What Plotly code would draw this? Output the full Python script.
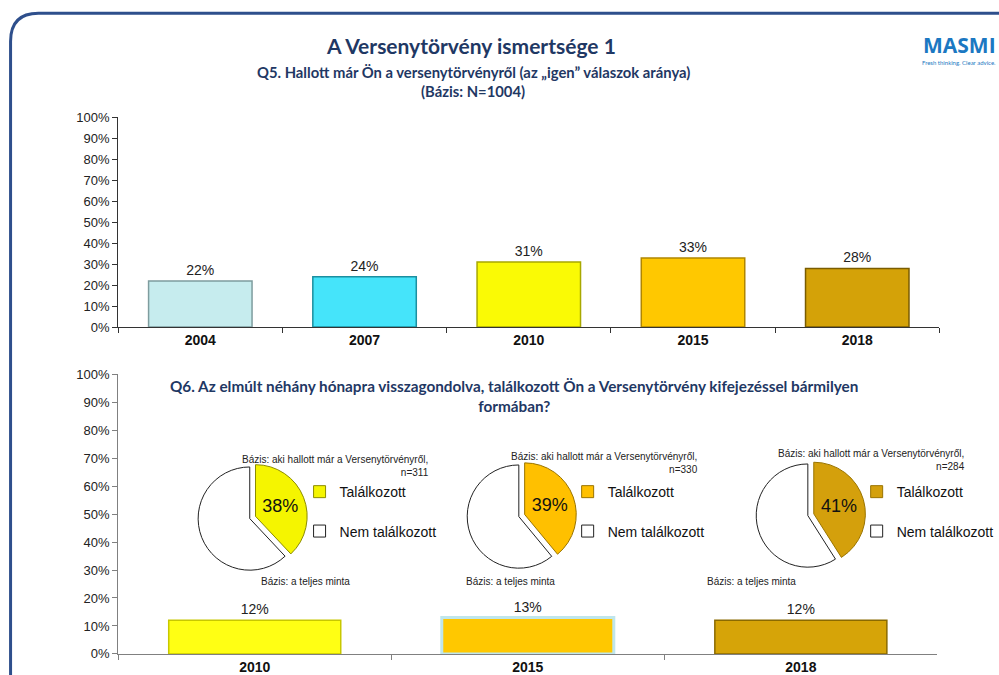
import plotly.graph_objects as go

# ---------------- data ----------------
q5_years = ["2004", "2007", "2010", "2015", "2018"]
q5_values = [22, 24, 31, 33, 28]
q5_colors = ["#C6ECEE", "#45E4FA", "#FAFA05", "#FFC800", "#D4A208"]
q5_edges = ["#7E9C9E", "#1C8FA0", "#A8A800", "#B08600", "#7A5C00"]

q6_years = ["2010", "2015", "2018"]
q6_total = [12, 13, 12]
q6_colors = ["#FFFF14", "#FFC800", "#D6A408"]
q6_edges = ["#C8C800", "#BFE6EC", "#8A6A00"]

pie_labels = ["Találkozott", "Nem találkozott"]
pie_met = [38, 39, 41]
pie_n = [311, 330, 284]
pie_colors = ["#F5F500", "#FFC000", "#D4A00C"]

y_ticks = list(range(0, 101, 10))
y_tick_labels = [f"{v}%" for v in y_ticks]

# figure pinned at page (0,0); capture maps page y -> 0.9757*y + 6.8
W, H = 999, 692
OY, SY = 6.8, 0.9757
OX, SX = -0.6, 0.9964
def px(x):
    return ((x - OX) / SX) / W
def py(y):
    return 1 - ((y - OY) / SY) / H

NAVY = "#1F3864"
TF = "Lato"
AF = "Liberation Sans"

fig = go.Figure()

# top chart
fig.add_trace(go.Bar(
    x=q5_years, y=q5_values, xaxis="x", yaxis="y",
    marker=dict(color=q5_colors, line=dict(color=q5_edges, width=1.5)),
    text=[f"{v}%" for v in q5_values], textposition="outside",
    textfont=dict(family=AF, size=14, color="#222"),
    cliponaxis=False, showlegend=False, hoverinfo="skip"))

# bottom chart
fig.add_trace(go.Bar(
    x=q6_years, y=q6_total, xaxis="x2", yaxis="y2",
    marker=dict(color=q6_colors, line=dict(color=q6_edges, width=[1.5, 3, 1.5])),
    text=[f"{v}%" for v in q6_total], textposition="outside",
    textfont=dict(family=AF, size=14, color="#222"),
    cliponaxis=False, showlegend=False, hoverinfo="skip"))

# pies
pie_centers = [(250, 517), (520, 515), (810, 514)]
legend_names = ["legend", "legend2", "legend3"]
half = 58
for i in range(3):
    cx, cy = pie_centers[i]
    vals = [pie_met[i], 100 - pie_met[i]]
    # zero-width spaces keep each pie's legend entries separate;
    # the leading line break widens the gap between the two legend rows
    labels = [pie_labels[0] + "\u200b" * i, "<br>" + pie_labels[1] + "\u200b" * i]
    fig.add_trace(go.Pie(
        labels=labels, values=vals, sort=False, direction="clockwise",
        rotation=0, pull=[0.12, 0],
        marker=dict(colors=[pie_colors[i], "#FFFFFF"],
                    line=dict(color=["#8C8C00" if i == 0 else "#9A7400", "#222222"], width=1)),
        text=[f"{pie_met[i]}%", ""], textinfo="text",
        textposition=["inside", "none"], insidetextorientation="horizontal",
        textfont=dict(family=AF, size=18, color="#111"),
        domain=dict(x=[px(cx - half), px(cx + half)], y=[py(cy + half), py(cy - half)]),
        legend=legend_names[i], showlegend=True, hoverinfo="skip"))

axis_common = dict(showline=True, ticks="outside", ticklen=5, showgrid=False, zeroline=False)

layout = dict(
    width=W, height=H, margin=dict(l=0, r=0, t=0, b=0),
    paper_bgcolor="white", plot_bgcolor="rgba(0,0,0,0)",
    bargap=0.37,
    xaxis=dict(domain=[px(118), px(942)], anchor="y", tickson="boundaries",
               linecolor="#333", tickcolor="#333",
               tickfont=dict(family=AF, size=14, color="#111", weight="bold"), **axis_common),
    yaxis=dict(domain=[py(326), py(117)], anchor="x", range=[0, 100],
               tickvals=y_ticks, ticktext=y_tick_labels, linecolor="#333", tickcolor="#333",
               tickfont=dict(family=AF, size=13, color="#222"), **axis_common),
    xaxis2=dict(domain=[px(118), px(940)], anchor="y2", tickson="boundaries",
                linecolor="#808080", tickcolor="#808080",
                tickfont=dict(family=AF, size=14, color="#111", weight="bold"), **axis_common),
    yaxis2=dict(domain=[py(652), py(373)], anchor="x2", range=[0, 100],
                tickvals=y_ticks, ticktext=y_tick_labels, linecolor="#808080", tickcolor="#808080",
                tickfont=dict(family=AF, size=13, color="#222"), **axis_common),
)

leg_x = [300, 569, 859]
for i, name in enumerate(legend_names):
    layout[name] = dict(x=px(leg_x[i]), y=py(510), xanchor="left", yanchor="middle",
                        bgcolor="rgba(0,0,0,0)", font=dict(family=AF, size=14, color="#111"),
                        itemwidth=30, tracegroupgap=0, valign="bottom")

fig.update_layout(**layout)

ann = []
ann.append(dict(x=px(472), y=py(45), text="<b>A Versenytörvény ismertsége 1</b>",
                font=dict(family=TF, size=21, color=NAVY)))
ann.append(dict(x=px(475), y=py(72),
                text="<b>Q5. Hallott már Ön a versenytörvényről (az „igen” válaszok aránya)</b>",
                font=dict(family=TF, size=14.8, color=NAVY)))
ann.append(dict(x=px(474), y=py(91), text="<b>(Bázis: N=1004)</b>",
                font=dict(family=TF, size=14.8, color=NAVY)))
ann.append(dict(x=px(515), y=py(395),
                text="<b>Q6. Az elmúlt néhány hónapra visszagondolva, találkozott Ön a Versenytörvény kifejezéssel bármilyen<br>formában?</b>",
                font=dict(family=TF, size=15.3, color=NAVY)))
# logo
ann.append(dict(x=px(1001), y=py(45), xanchor="right", text="<b>MASMI</b>",
                font=dict(family="Open Sans", size=21, color="#1B78C2")))
ann.append(dict(x=px(1001), y=py(62), xanchor="right", text="Fresh thinking. Clear advice.",
                font=dict(family=TF, size=6, color="#1B78C2")))

# pie base notes
base_right = [432, 702, 970]
base_y = [465, 462, 459]
teljes_x = [259, 512, 800]
for i in range(3):
    ann.append(dict(x=px(base_right[i]), y=py(base_y[i]), xanchor="right", align="right",
                    text=f"Bázis: aki hallott már a Versenytörvényről,<br>n={pie_n[i]}",
                    font=dict(family=AF, size=10, color="#222")))
    ann.append(dict(x=px(teljes_x[i]), y=py(580), text="Bázis: a teljes minta",
                    font=dict(family=AF, size=10, color="#222")))

for a in ann:
    a.setdefault("xref", "paper")
    a.setdefault("yref", "paper")
    a.setdefault("showarrow", False)
    a.setdefault("yanchor", "middle")
fig.update_layout(annotations=ann)

# rounded frame
x0, y0, r = 10, 13, 28
path = (f"M {px(x0)},{py(720)} L {px(x0)},{py(y0 + r)} "
        f"Q {px(x0)},{py(y0)} {px(x0 + r)},{py(y0)} L {px(1010)},{py(y0)}")
fig.add_shape(type="path", xref="paper", yref="paper", path=path,
              line=dict(color="#2E4F8C", width=3), layer="below")

# pin the figure to the top-left corner of the page
pin = """
document.documentElement.style.margin='0';
document.body.style.margin='0';
document.body.style.padding='0';
document.body.style.overflow='hidden';
var gd=document.getElementById('{plot_id}');
gd.style.position='fixed'; gd.style.left='0px'; gd.style.top='0px';
"""
fig.write_html("out.html", post_script=pin, config={"displayModeBar": False})
